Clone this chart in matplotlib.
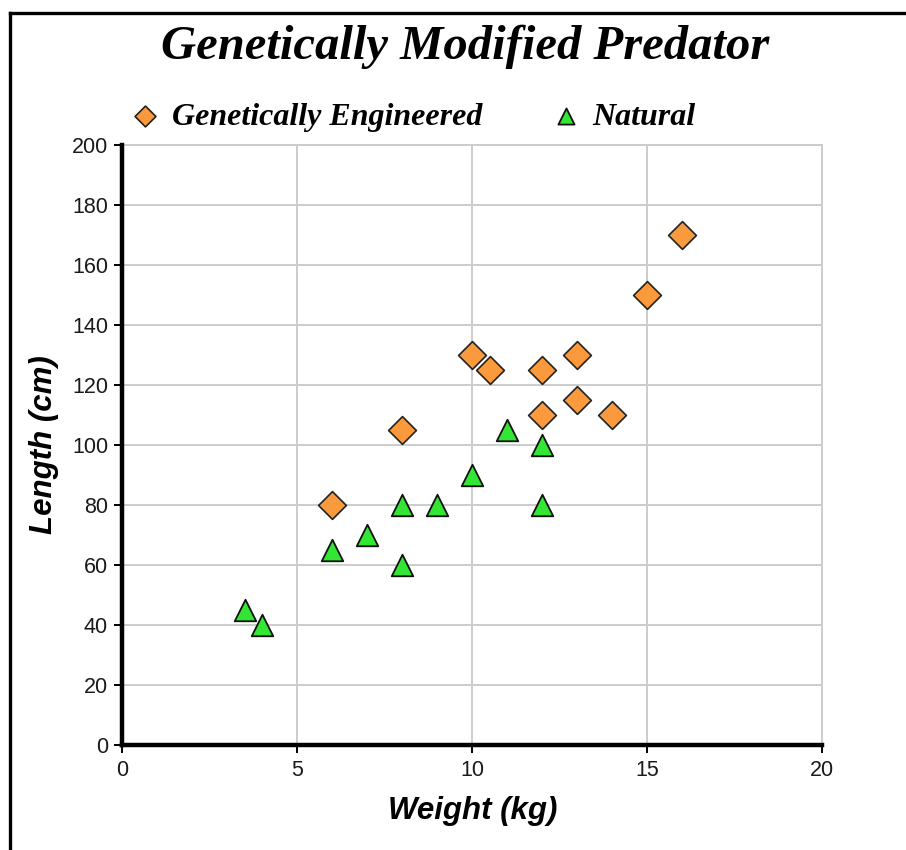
import matplotlib
matplotlib.use("Agg")
import matplotlib.pyplot as plt
from matplotlib.lines import Line2D

# Weight (kg) and length (cm) of each specimen
ge_weight = [6, 8, 10, 10.5, 12, 12, 13, 13, 14, 15, 16]
ge_length = [80, 105, 130, 125, 125, 110, 130, 115, 110, 150, 170]

nat_weight = [3.5, 4, 6, 7, 8, 8, 9, 10, 11, 12, 12]
nat_length = [45, 40, 65, 70, 80, 60, 80, 90, 105, 100, 80]

x_ticks = [0, 5, 10, 15, 20]
y_ticks = list(range(0, 201, 20))

W, H = 906, 850
fig = plt.figure(figsize=(W / 100, H / 100), dpi=100)
fig.patch.set_facecolor("white")

ax = fig.add_axes([122 / W, 1 - 745 / H, 700 / W, 600 / H])

ax.scatter(ge_weight, ge_length, marker="D", s=200, facecolor="#fb9a3c",
           edgecolor="#222222", linewidth=1.2, zorder=3,
           label="Genetically Engineered")
ax.scatter(nat_weight, nat_length, marker="^", s=240, facecolor="#33e633",
           edgecolor="#111111", linewidth=1.3, zorder=3, label="Natural")

ax.set_xlim(0, 20)
ax.set_ylim(0, 200)
ax.set_xticks(x_ticks)
ax.set_yticks(y_ticks)
ax.grid(True, color="#cccccc", linewidth=1.4)
ax.set_axisbelow(True)

for side in ("top", "right"):
    ax.spines[side].set_visible(False)
for side in ("left", "bottom"):
    ax.spines[side].set_linewidth(3.2)
    ax.spines[side].set_color("black")
    ax.spines[side].set_zorder(4)

# Grid lines closing the plot area on the top and right
ax.axhline(200, color="#cccccc", linewidth=1.4, zorder=1, clip_on=False)
ax.axvline(20, color="#cccccc", linewidth=1.4, zorder=1, clip_on=False)

ax.tick_params(axis="both", direction="out", length=6, width=1.4,
               color="black", labelsize=15.5, labelcolor="#1a1a1a")
ax.tick_params(axis="x", pad=5)
ax.tick_params(axis="y", pad=4)
for lab in ax.get_xticklabels() + ax.get_yticklabels():
    lab.set_family("Liberation Sans")

ax.set_xlabel("Weight (kg)", family="Liberation Sans", fontsize=22.5,
              fontweight="bold", style="italic")
ax.set_ylabel("Length (cm)", family="Liberation Sans", fontsize=22.5,
              fontweight="bold", style="italic")
ax.xaxis.set_label_coords((473 - 122) / 700, (745 - 811) / 600)
ax.yaxis.set_label_coords((44 - 122) / 700, 0.5)
ax.xaxis.label.set_va("center")
ax.yaxis.label.set_va("center")
ax.yaxis.label.set_ha("center")

fig.text(465 / W, 1 - 47 / H, "Genetically Modified Predator",
         family="Liberation Serif", fontsize=35, fontweight="bold",
         style="italic", ha="center", va="center")

leg = ax.legend(loc="center", bbox_to_anchor=(414 / W, 1 - 117 / H),
                bbox_transform=fig.transFigure, ncol=2, frameon=False,
                handlelength=0.8, handletextpad=0.44, columnspacing=2.2,
                markerscale=0.75, borderpad=0, borderaxespad=0,
                prop={"family": "Liberation Serif", "size": 23,
                      "weight": "bold", "style": "italic"})

# Page frame along the top and left edges
fig.add_artist(Line2D([9.5 / W, 1], [1 - 12.5 / H, 1 - 12.5 / H],
                      transform=fig.transFigure, color="black", linewidth=2.4))
fig.add_artist(Line2D([9.5 / W, 9.5 / W], [0, 1 - 12.5 / H],
                      transform=fig.transFigure, color="black", linewidth=2.4))

fig.savefig("out.png", dpi=100)
